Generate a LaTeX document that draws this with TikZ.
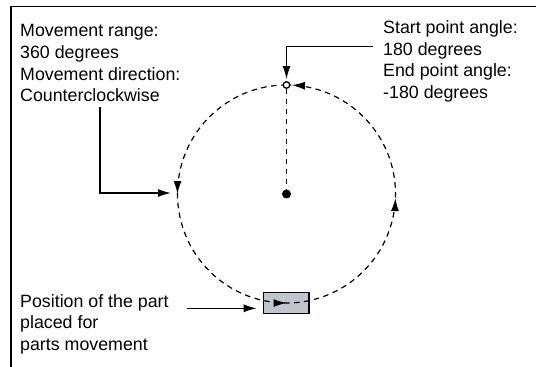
\documentclass[tikz,border=0pt]{standalone}
\usepackage{fontspec}
\setmainfont{Liberation Sans}
\usetikzlibrary{arrows.meta, positioning, decorations.markings}
\definecolor{partgray}{RGB}{192,196,204}

\begin{document}
\begin{tikzpicture}[
  x=1pt, y=1pt,
  txt/.style={anchor=north west, inner sep=0pt, align=left, font=\fontsize{17.8}{21.8}\selectfont},
  arrow/.style={-{Latex[length=13pt, width=8pt]}, line width=1.3pt},
  orbit/.style={dash pattern=on 5.5pt off 4.5pt, line width=1.2pt},
  orbittips/.style={postaction={decorate}, decoration={markings,
    mark=at position 0.25 with {\arrow{Latex[length=13pt, width=8pt]}},
    mark=at position 0.5 with {\arrow{Latex[length=13pt, width=8pt]}},
    mark=at position 0.744 with {\arrow{Latex[length=13pt, width=8pt]}},
    mark=at position 0.992 with {\arrow{Latex[length=13pt, width=8pt]}}}}
]
\useasboundingbox (0,0) rectangle (536,367);

% Frame
\draw[line width=1.1pt] (536,360.3) -- (11,360.3) -- (11,0);

% Texts
\node[txt] (rangetxt) at (20,343) {Movement range:\\360 degrees\\Movement direction:\\Counterclockwise};
\node[txt] (angletxt) at (383,346.7) {Start point angle:\\180 degrees\\End point angle:\\-180 degrees};
\node[txt] (parttxt) at (20,73) {Position of the part\\placed for\\parts movement};

% Part and path
\node[draw, fill=partgray, line width=1.3pt, inner sep=0pt, minimum width=45.7pt, minimum height=20.6pt] (part) at (286.2,64) {};
\node[circle, fill, inner sep=0pt, minimum size=9pt] (centre) at (286.5,173) {};
\draw[orbit, orbittips] (centre.center) ++(0,109) arc[start angle=90, end angle=450, radius=109];
\node[circle, draw, fill=white, line width=1.3pt, inner sep=0pt, minimum size=6.5pt] (startpt) at (286.5,282) {};
\draw[orbit] (startpt) -- (centre);

% Leaders
\coordinate (ccwfrom) at (100,260);
\coordinate (ccwto) at (171,174);
\coordinate (startfrom) at (372.6,320.3);
\coordinate (partfrom) at (187,58.7);
\draw[arrow] (ccwfrom) |- (ccwto);
\draw[arrow, shorten >=2pt] (startfrom) -| (startpt);
\draw[arrow, shorten >=6pt] (partfrom) -- (partfrom -| part.west);

\end{tikzpicture}
\end{document}
